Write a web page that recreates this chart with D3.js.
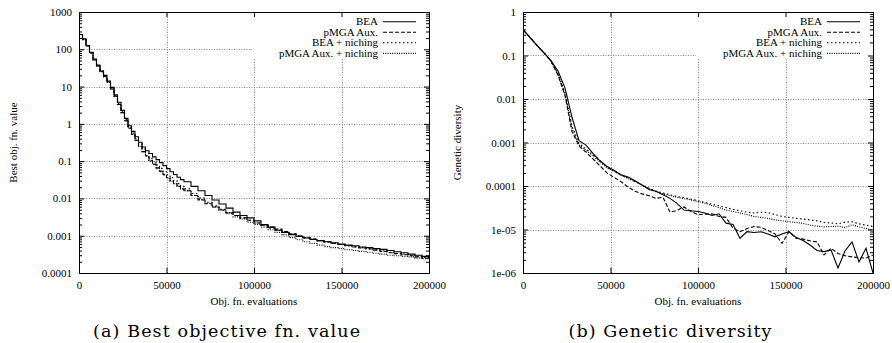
<!DOCTYPE html>
<html>
<head>
<meta charset="utf-8">
<script src="https://cdn.jsdelivr.net/npm/d3@7"></script>
<style>
  body { margin: 0; background: #fff; }
  text { font-family: "Liberation Serif", serif; }
</style>
</head>
<body>
<svg id="fig" width="892" height="343"></svg>
<script>
// sample points (objective function evaluations)
const bestEvals = d3.range(0, 60000, 2000).concat(d3.range(60000, 200001, 4000));
const divEvals = d3.range(0, 200001, 4000);
const seriesNames = ["BEA", "pMGA Aux.", "BEA + niching", "pMGA Aux. + niching"];
const xTicks = [0, 50000, 100000, 150000, 200000];

const bestTicks = [1000, 100, 10, 1, 0.1, 0.01, 0.001, 0.0001];
const bestTickLabels = ["1000", "100", "10", "1", "0.1", "0.01", "0.001", "0.0001"];
const divTicks = [1, 0.1, 0.01, 0.001, 0.0001, 1e-5, 1e-6];
const divTickLabels = ["1", "0.1", "0.01", "0.001", "0.0001", "1e-05", "1e-06"];

// (a) best objective fn. value
const bestBEA = [250, 190, 125, 83, 55, 38, 26, 20, 14, 9.5, 6.0, 3.8, 2.3, 1.4, 0.89, 0.63, 0.45,
  0.32, 0.24, 0.19, 0.16, 0.13, 0.11, 0.091, 0.076, 0.063, 0.052, 0.044, 0.037, 0.032,
  0.028, 0.021, 0.016, 0.012, 0.0091, 0.0071, 0.0055, 0.0043, 0.0035, 0.0030, 0.0025, 0.0020,
  0.0017, 0.0014, 0.00123, 0.00107, 0.00095, 0.00087, 0.00079, 0.00074, 0.00069, 0.00065,
  0.00060, 0.00056, 0.00054, 0.00050, 0.00048, 0.00045, 0.00043, 0.00040, 0.00037, 0.00035,
  0.00032, 0.00030, 0.00028, 0.00025];
const bestPMGA = [250, 186, 125, 79, 52, 36, 25, 18.6, 13, 8.7, 5.5, 3.3, 2.0, 1.2, 0.76, 0.52, 0.36,
  0.25, 0.18, 0.14, 0.105, 0.083, 0.066, 0.054, 0.044, 0.036, 0.030, 0.025, 0.021, 0.018,
  0.016, 0.012, 0.0091, 0.0072, 0.0059, 0.0049, 0.0041, 0.0035, 0.0030, 0.0026, 0.0022, 0.0019,
  0.0017, 0.0015, 0.0013, 0.00112, 0.0010, 0.00089, 0.00081, 0.00074, 0.00068, 0.00062,
  0.00058, 0.00054, 0.00050, 0.00047, 0.00044, 0.00041, 0.00038, 0.00035, 0.00033, 0.00031,
  0.00029, 0.00027, 0.00025, 0.00023];
const bestBEANich = [250, 180, 125, 82, 52, 37, 26, 19, 13.5, 9.0, 5.8, 3.5, 2.1, 1.3, 0.82, 0.57,
  0.40, 0.29, 0.21, 0.16, 0.12, 0.097, 0.079, 0.064, 0.052, 0.043, 0.036, 0.030, 0.025, 0.021,
  0.018, 0.0135, 0.0102, 0.0079, 0.0063, 0.0051, 0.0042, 0.0035, 0.0030, 0.0026, 0.0022, 0.0019,
  0.0016, 0.0014, 0.00125, 0.0011, 0.00098, 0.00089, 0.00081, 0.00074, 0.00068, 0.00063,
  0.00058, 0.00054, 0.00051, 0.00048, 0.00045, 0.00042, 0.00039, 0.00036, 0.00034, 0.00032,
  0.00030, 0.00028, 0.00026, 0.00024];
const bestPMGANich = [250, 182, 125, 80, 52, 36, 25, 18, 13, 8.5, 5.4, 3.3, 2.0, 1.25, 0.78, 0.53,
  0.36, 0.25, 0.18, 0.135, 0.10, 0.08, 0.063, 0.052, 0.042, 0.035, 0.029, 0.025, 0.021, 0.018,
  0.016, 0.012, 0.0093, 0.0074, 0.0059, 0.0048, 0.0039, 0.0032, 0.0028, 0.0023, 0.0020, 0.0017,
  0.00145, 0.00123, 0.00105, 0.00089, 0.00078, 0.00069, 0.00062, 0.00056, 0.00051, 0.00048,
  0.00045, 0.00042, 0.00040, 0.00038, 0.00036, 0.00034, 0.00032, 0.00030, 0.00029, 0.00028,
  0.00027, 0.00025, 0.00024, 0.00023];

// (b) genetic diversity
const divBEA = [0.39, 0.26, 0.17, 0.115, 0.076, 0.044, 0.018, 0.0038, 0.0011, 0.00087, 0.00056,
  0.00038, 0.00028, 0.00023, 0.00018, 0.00016, 1.32e-4, 1.05e-4, 8.3e-5, 7.6e-5, 6.3e-5, 5.2e-5,
  4.0e-5, 2.8e-5, 2.7e-5, 2.6e-5, 2.4e-5, 2.1e-5, 2.3e-5, 1.4e-5, 1.3e-5, 6.3e-6, 8.9e-6, 8.5e-6,
  8.9e-6, 7.9e-6, 6.8e-6, 7.9e-6, 8.9e-6, 6.6e-6, 5.6e-6, 4.4e-6, 3.3e-6, 3.1e-6, 3.4e-6, 1.3e-6,
  3.2e-6, 5.2e-6, 1.8e-6, 3.7e-6, 1.0e-6];
const divPMGA = [0.39, 0.26, 0.17, 0.115, 0.074, 0.035, 0.012, 0.0018, 0.00083, 0.0006, 0.00042,
  0.00029, 0.0002, 1.58e-4, 1.26e-4, 9.5e-5, 7.6e-5, 6.6e-5, 6.0e-5, 5.2e-5, 5.5e-5, 2.5e-5,
  2.75e-5, 3.3e-5, 2.6e-5, 2.2e-5, 2.25e-5, 2.3e-5, 2.0e-5, 1.9e-5, 1.07e-5, 8.9e-6, 1.05e-5,
  1.17e-5, 1.12e-5, 9.5e-6, 7.9e-6, 4.8e-6, 8.9e-6, 6.3e-6, 6.0e-6, 5.5e-6, 5.2e-6, 2.6e-6,
  3.7e-6, 2.8e-6, 2.5e-6, 2.35e-6, 2.25e-6, 2.2e-6, 2.6e-6];
const divBEANich = [0.39, 0.26, 0.17, 0.115, 0.074, 0.038, 0.014, 0.0024, 0.00095, 0.00071, 0.00052,
  0.00038, 0.000275, 0.00022, 0.000182, 0.000151, 1.26e-4, 1.07e-4, 8.9e-5, 7.6e-5, 6.9e-5, 6.3e-5,
  5.75e-5, 5.4e-5, 5.0e-5, 4.6e-5, 4.2e-5, 3.8e-5, 3.5e-5, 3.2e-5, 2.9e-5, 2.7e-5, 2.5e-5, 2.4e-5,
  2.5e-5, 2.45e-5, 2.2e-5, 2.0e-5, 1.9e-5, 1.8e-5, 1.74e-5, 1.66e-5, 1.58e-5, 1.45e-5, 1.41e-5,
  1.35e-5, 1.48e-5, 1.51e-5, 1.35e-5, 1.26e-5, 1.17e-5];
const divPMGANich = [0.39, 0.26, 0.17, 0.115, 0.074, 0.038, 0.013, 0.0021, 0.00089, 0.00066, 0.00049,
  0.000355, 0.000263, 0.000214, 0.000178, 0.000148, 1.26e-4, 1.05e-4, 8.7e-5, 7.4e-5, 6.6e-5, 6.0e-5,
  5.5e-5, 5.1e-5, 4.8e-5, 4.4e-5, 4.0e-5, 3.55e-5, 3.2e-5, 2.8e-5, 2.6e-5, 2.4e-5, 2.2e-5, 2.0e-5,
  1.9e-5, 1.8e-5, 1.66e-5, 1.58e-5, 1.51e-5, 1.45e-5, 1.38e-5, 1.26e-5, 1.2e-5, 1.15e-5, 1.17e-5,
  1.2e-5, 1.1e-5, 1.29e-5, 1.15e-5, 1.05e-5, 9.8e-6];

const dashes = [null, "4,2", "1.5,2.5", "1,1.3"];

const svg = d3.select("#fig");
svg.append("rect").attr("width", 892).attr("height", 343).attr("fill", "#fff");

function panel(o) {
  const g = svg.append("g");
  const x = d3.scaleLinear().domain([0, 200000]).range([o.left, o.right]);
  const y = d3.scaleLog().domain(o.domain).range([o.bottom, o.top]);

  // grid
  g.selectAll(".gy").data(o.ticks.filter(d => d > o.domain[0] && d < o.domain[1]))
    .enter().append("line")
    .attr("x1", o.left).attr("x2", o.right)
    .attr("y1", d => Math.round(y(d)) + 0.5).attr("y2", d => Math.round(y(d)) + 0.5)
    .attr("stroke", "#888").attr("stroke-dasharray", "1,1.5");
  g.selectAll(".gx").data(xTicks.slice(1, -1))
    .enter().append("line")
    .attr("y1", o.top).attr("y2", o.bottom)
    .attr("x1", d => Math.round(x(d)) + 0.5).attr("x2", d => Math.round(x(d)) + 0.5)
    .attr("stroke", "#888").attr("stroke-dasharray", "1,1.5");

  // key area is opaque
  g.append("rect").attr("x", o.right - 177).attr("y", o.top + 1)
    .attr("width", 176).attr("height", 46).attr("fill", "#fff");

  // minor ticks of the log axis
  const minor = [];
  for (let e = Math.round(Math.log10(o.domain[0])); e < Math.round(Math.log10(o.domain[1])); e++)
    for (let k = 2; k <= 9; k++) minor.push(k * Math.pow(10, e));

  const fmt = d => o.labels[o.ticks.indexOf(d)];
  const axes = [
    [d3.axisBottom(x).tickValues(xTicks).tickSize(-5).tickPadding(8.5).tickFormat(d3.format("d")), 0, o.bottom],
    [d3.axisTop(x).tickValues(xTicks).tickSize(-5).tickFormat(""), 0, o.top],
    [d3.axisLeft(y).tickValues(o.ticks).tickSize(-5).tickPadding(7).tickFormat(fmt), o.left, 0],
    [d3.axisRight(y).tickValues(o.ticks).tickSize(-5).tickFormat(""), o.right, 0],
    [d3.axisLeft(y).tickValues(minor).tickSize(-3).tickFormat(""), o.left, 0],
    [d3.axisRight(y).tickValues(minor).tickSize(-3).tickFormat(""), o.right, 0]
  ];
  axes.forEach(([ax, tx, ty]) => {
    const a = g.append("g").attr("transform", `translate(${tx},${ty})`).call(ax);
    a.select(".domain").remove();
    a.selectAll("line").attr("stroke", "#000");
    a.selectAll("text").attr("fill", "#000")
      .style("font-family", '"Liberation Serif", serif').style("font-size", "11px");
  });

  // frame
  g.append("rect").attr("x", o.left + 0.5).attr("y", o.top + 0.5)
    .attr("width", o.right - o.left).attr("height", o.bottom - o.top)
    .attr("fill", "none").attr("stroke", "#000").attr("stroke-width", 1);

  // curves
  const clipId = "clip" + o.id;
  svg.append("clipPath").attr("id", clipId).append("rect")
    .attr("x", o.left).attr("y", o.top).attr("width", o.right - o.left + 1).attr("height", o.bottom - o.top + 1);
  const line = d3.line().x((d, i) => x(o.evals[i])).y(d => y(d)).curve(o.curve);
  o.series.forEach((s, k) => {
    g.append("path").datum(s).attr("d", line).attr("clip-path", `url(#${clipId})`)
      .attr("fill", "none").attr("stroke", "#000").attr("stroke-width", 1.1)
      .attr("stroke-dasharray", dashes[k]);
  });

  // key
  seriesNames.forEach((n, k) => {
    const yy = o.top + 9.7 + k * 10.55;
    g.append("text").attr("x", o.right - 51).attr("y", yy + 3.6)
      .attr("text-anchor", "end").style("font-size", "11px").text(n);
    g.append("line").attr("x1", o.right - 46).attr("x2", o.right - 13)
      .attr("y1", yy).attr("y2", yy)
      .attr("stroke", "#000").attr("stroke-width", 1.1).attr("stroke-dasharray", dashes[k]);
  });

  // axis titles
  g.append("text").attr("x", (o.left + o.right) / 2).attr("y", 305)
    .attr("text-anchor", "middle").style("font-size", "11px").text("Obj. fn. evaluations");
  g.append("text").attr("transform", `translate(${o.yTitleX},${(o.top + o.bottom) / 2}) rotate(-90)`)
    .attr("text-anchor", "middle").style("font-size", "11px").text(o.yTitle);

  // caption
  g.append("text").attr("x", o.capX).attr("y", 337).attr("text-anchor", "middle")
    .style("font-family", '"DejaVu Serif", serif').style("font-size", "17.5px")
    .attr("textLength", o.capW).attr("lengthAdjust", "spacing").text(o.caption);
}

panel({
  id: "a", left: 79, right: 429, top: 12, bottom: 273,
  domain: [1e-4, 1e3], ticks: bestTicks, labels: bestTickLabels, evals: bestEvals,
  series: [bestBEA, bestPMGA, bestBEANich, bestPMGANich], curve: d3.curveStepAfter,
  yTitle: "Best obj. fn. value", yTitleX: 17,
  caption: "(a) Best objective fn. value", capX: 226.5, capW: 267
});
panel({
  id: "b", left: 523, right: 873, top: 12, bottom: 273,
  domain: [1e-6, 1], ticks: divTicks, labels: divTickLabels, evals: divEvals,
  series: [divBEA, divPMGA, divBEANich, divPMGANich], curve: d3.curveLinear,
  yTitle: "Genetic diversity", yTitleX: 461,
  caption: "(b) Genetic diversity", capX: 670, capW: 203
});
</script>
</body>
</html>
